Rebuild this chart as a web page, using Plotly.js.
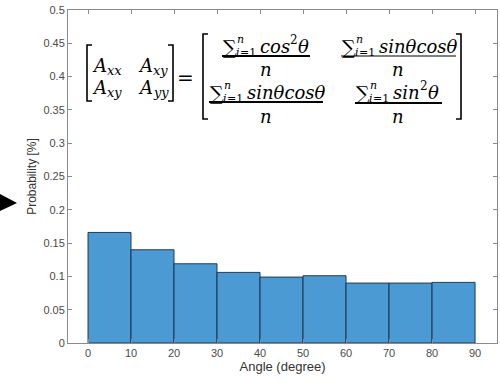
<!DOCTYPE html>
<html>
<head>
<meta charset="utf-8">
<script src="https://cdn.plot.ly/plotly-3.0.1.min.js"></script>
<style>html,body{margin:0;padding:0;background:#fff;}#chart{width:500px;height:387px;}</style>
</head>
<body>
<div id="chart"></div>
<script>
// ---- data ----
const binCenters = [5, 15, 25, 35, 45, 55, 65, 75, 85];
const probability = [0.166, 0.140, 0.119, 0.106, 0.099, 0.101, 0.090, 0.090, 0.091];
const xTickVals = [0, 10, 20, 30, 40, 50, 60, 70, 80, 90];
const yTickVals = [0, 0.05, 0.1, 0.15, 0.2, 0.25, 0.3, 0.35, 0.4, 0.45, 0.5];
const yTickText = ['0', '0.05', '0.1', '0.15', '0.2', '0.25', '0.3', '0.35', '0.4', '0.45', '0.5'];
const xTitle = 'Angle (degree)';
const yTitle = 'Probability [%]';

// ---- layout geometry ----
const W = 500, H = 387;
const M = {l: 68, r: 3, t: 10, b: 44};
const PW = W - M.l - M.r, PH = H - M.t - M.b;
const px = X => (X - M.l) / PW;
const py = Y => (H - M.b - Y) / PH;

const serif = 'DejaVu Serif';
const ctx = document.createElement('canvas').getContext('2d');
function measure(t, size, italic) {
  ctx.font = (italic ? 'italic ' : '') + size + 'px "' + serif + '"';
  return ctx.measureText(t).width;
}
const annotations = [];
const shapes = [];
function txt(X, Y, text, size, anchor, italic) {
  annotations.push({xref: 'paper', yref: 'paper', x: px(X), y: py(Y), text: text,
    showarrow: false, xanchor: anchor || 'center', yanchor: 'middle', borderpad: 0,
    font: {family: serif, size: size, color: '#000', style: italic ? 'italic' : 'normal'}});
}
// sequence of text pieces laid out left to right: [text, size, italic, dy, gap]
function run(X, Y, pieces) {
  let x = X;
  pieces.forEach(p => {
    txt(x, Y + (p[3] || 0), p[0], p[1], 'left', p[2]);
    x += measure(p[0], p[1], p[2]) + (p[4] || 0);
  });
}
function hline(X0, X1, Y, w) {
  shapes.push({type: 'line', xref: 'paper', yref: 'paper', x0: px(X0), x1: px(X1), y0: py(Y), y1: py(Y),
    line: {color: '#000', width: w}});
}
function bracket(X, Y0, Y1, dir) {
  const a = dir * 5;
  shapes.push({type: 'path', xref: 'paper', yref: 'paper',
    path: `M ${px(X + a)} ${py(Y0)} L ${px(X)} ${py(Y0)} L ${px(X)} ${py(Y1)} L ${px(X + a)} ${py(Y1)}`,
    line: {color: '#000', width: 1.6}});
}
function sumExpr(X, Y, bodyPieces) {
  txt(X, Y + 1, '∑', 19, 'left', false);
  txt(X + 14, Y - 7, 'n', 11, 'left', true);
  run(X + 13, Y + 6, [['i', 11, true, 0], ['=1', 11, false, 0]]);
  run(X + 37, Y, bodyPieces);
}
function entry(X, Y, sub) {
  run(X, Y, [['A', 18, true, 0, 2], [sub, 13, true, 5]]);
}

// left matrix
bracket(87, 45, 101, 1);
bracket(173, 45, 101, -1);
entry(91, 65, 'xx');
entry(137, 65, 'xy');
entry(91, 87, 'xy');
entry(137, 87, 'yy');
txt(185, 78, '=', 20, 'center', false);
// right matrix
bracket(203, 34, 119, 1);
bracket(461, 34, 119, -1);
// top-left
sumExpr(222, 46, [['cos', 18, true], ['2', 12, false, -6, 0.5], ['θ', 18, true]]);
hline(222, 310, 56, 2.2);
txt(266, 69, 'n', 18, 'center', true);
// top-right
sumExpr(341, 46, [['sinθcosθ', 18, true]]);
hline(341, 456, 56, 1.2);
txt(398, 69, 'n', 18, 'center', true);
// bottom-left
sumExpr(209, 92, [['sinθcosθ', 18, true]]);
hline(209, 323, 102, 2.2);
txt(266, 116, 'n', 18, 'center', true);
// bottom-right
sumExpr(355, 92, [['sin', 18, true], ['2', 12, false, -6, 0.5], ['θ', 18, true]]);
hline(355, 442, 103, 2.2);
txt(398, 116, 'n', 18, 'center', true);

// black pointer triangle at left
shapes.push({type: 'path', xref: 'paper', yref: 'paper',
  path: `M ${px(0)} ${py(194)} L ${px(17)} ${py(203)} L ${px(0)} ${py(211)} Z`,
  fillcolor: '#000', line: {color: '#000', width: 0}});

const trace = {
  type: 'bar', x: binCenters, y: probability, width: 10,
  marker: {color: 'rgb(76,154,212)', line: {color: 'rgba(20,45,70,0.9)', width: 1}},
  hoverinfo: 'skip'
};

const axisCommon = {
  showgrid: false, zeroline: false, showline: true, linecolor: '#8a8a8a', linewidth: 1,
  ticks: 'inside', ticklen: 4, tickcolor: '#8a8a8a', mirror: 'ticks',
  tickfont: {family: 'Liberation Sans, Arial', size: 11, color: '#4a4a4a'}
};

const layout = {
  width: W, height: H, margin: M,
  paper_bgcolor: '#fff', plot_bgcolor: '#fff', showlegend: false, bargap: 0,
  xaxis: Object.assign({}, axisCommon, {
    range: [-4.65, 95.1], tickvals: xTickVals, ticktext: xTickVals.map(String),
    title: {text: xTitle, standoff: 3, font: {family: 'Liberation Sans, Arial', size: 13, color: '#333'}}
  }),
  yaxis: Object.assign({}, axisCommon, {
    range: [0, 0.5], tickvals: yTickVals, ticktext: yTickText,
    title: {text: yTitle, standoff: 4, font: {family: 'Liberation Sans, Arial', size: 12, color: '#333'}}
  }),
  annotations: annotations, shapes: shapes
};

Plotly.newPlot('chart', [trace], layout, {displayModeBar: false, staticPlot: true});
</script>
</body>
</html>
